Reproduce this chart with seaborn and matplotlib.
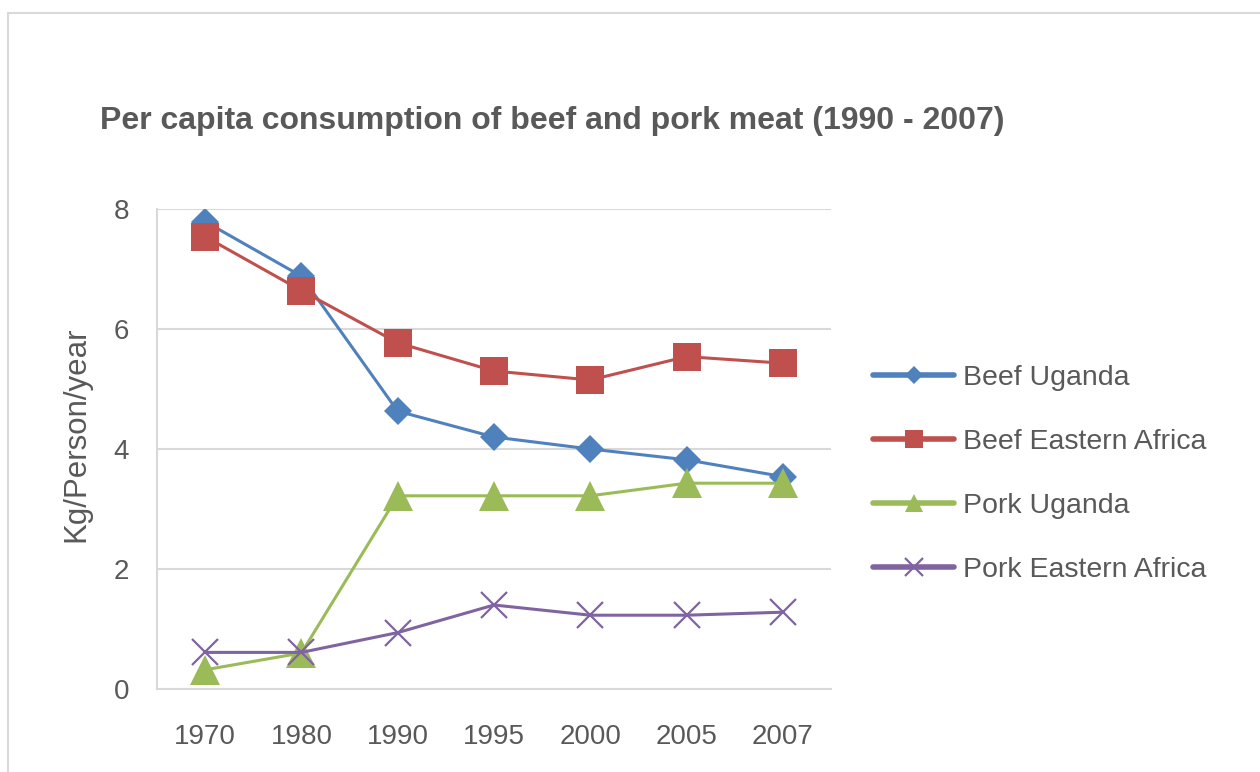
import pandas as pd
import seaborn as sns
import matplotlib.pyplot as plt
from matplotlib.lines import Line2D

years = ["1970", "1980", "1990", "1995", "2000", "2005", "2007"]
beef_uganda = [7.79, 6.88, 4.63, 4.20, 4.00, 3.82, 3.54]
beef_eastern_africa = [7.54, 6.64, 5.77, 5.30, 5.15, 5.54, 5.43]
pork_uganda = [0.32, 0.60, 3.22, 3.22, 3.22, 3.43, 3.43]
pork_eastern_africa = [0.61, 0.61, 0.94, 1.40, 1.23, 1.23, 1.28]

series_names = ["Beef Uganda", "Beef Eastern Africa", "Pork Uganda", "Pork Eastern Africa"]
colors = ["#4F81BD", "#C0504D", "#9BBB59", "#8064A2"]
markers = ["D", "s", "^", "x"]
msizes = [14, 20, 21, 19]

df = pd.DataFrame({
    "pos": list(range(len(years))) * 4,
    "value": beef_uganda + beef_eastern_africa + pork_uganda + pork_eastern_africa,
    "series": [s for s in series_names for _ in years],
})

sns.set_style("white")
plt.rcParams['font.family'] = ['Liberation Sans', 'DejaVu Sans']
txt = "#595959"
grid = "#D9D9D9"

fig = plt.figure(figsize=(12.6, 7.72), dpi=100)
ax = fig.add_axes([157 / 1260, 1 - 689 / 772, 674 / 1260, 480 / 772])

for name, c, m, ms in zip(series_names, colors, markers, msizes):
    sub = df[df.series == name]
    sns.lineplot(data=sub, x="pos", y="value", ax=ax, color=c, marker=m,
                 markersize=ms, linewidth=2.2, markeredgecolor=c,
                 markeredgewidth=1.6 if m == "x" else 0, label=name)

ax.set_xlim(-0.5, 6.5)
ax.set_ylim(0, 8)
ax.set_xticks(range(len(years)))
ax.set_xticklabels(years)
ax.set_yticks([0, 2, 4, 6, 8])
ax.tick_params(axis="both", length=0, labelsize=20, colors=txt)
ax.tick_params(axis="x", pad=25)
ax.tick_params(axis="y", pad=20)
ax.grid(axis="y", color=grid, linewidth=1.5)
ax.set_axisbelow(True)
for s in ["top", "right"]:
    ax.spines[s].set_visible(False)
ax.spines["left"].set_color(grid)
ax.spines["bottom"].set_color(grid)
ax.spines["left"].set_linewidth(1.5)
ax.spines["bottom"].set_linewidth(1.5)
ax.set_xlabel("")
ax.set_ylabel("Kg/Person/year", fontsize=22.5, color=txt)
ax.yaxis.label.set_va("center")
ax.yaxis.set_label_coords((76 - 157) / 674, (689 - 434) / 480)

handles, labels = ax.get_legend_handles_labels()
ax.legend(handles, labels, loc="center left",
          bbox_to_anchor=(873 / 1260, 1 - 474 / 772), bbox_transform=fig.transFigure,
          frameon=False, fontsize=20.5, labelcolor=txt, markerscale=0.65,
          handlelength=2.85, handletextpad=0.3, labelspacing=1.33,
          borderpad=0, borderaxespad=0)
for h in ax.get_legend().legend_handles:
    h.set_linewidth(4)

fig.text(100 / 1260, 1 - 121 / 772, "Per capita consumption of beef and pork meat (1990 - 2007)",
         ha="left", va="center", fontsize=23, fontweight="bold", color=txt)

# chart border (Excel chart area)
fig.add_artist(Line2D([7.5 / 1260, 7.5 / 1260], [0, 1 - 12.5 / 772], transform=fig.transFigure,
                      color=grid, linewidth=1.5))
fig.add_artist(Line2D([7.5 / 1260, 1], [1 - 12.5 / 772, 1 - 12.5 / 772], transform=fig.transFigure,
                      color=grid, linewidth=1.5))

fig.savefig("out.png", dpi=100)
